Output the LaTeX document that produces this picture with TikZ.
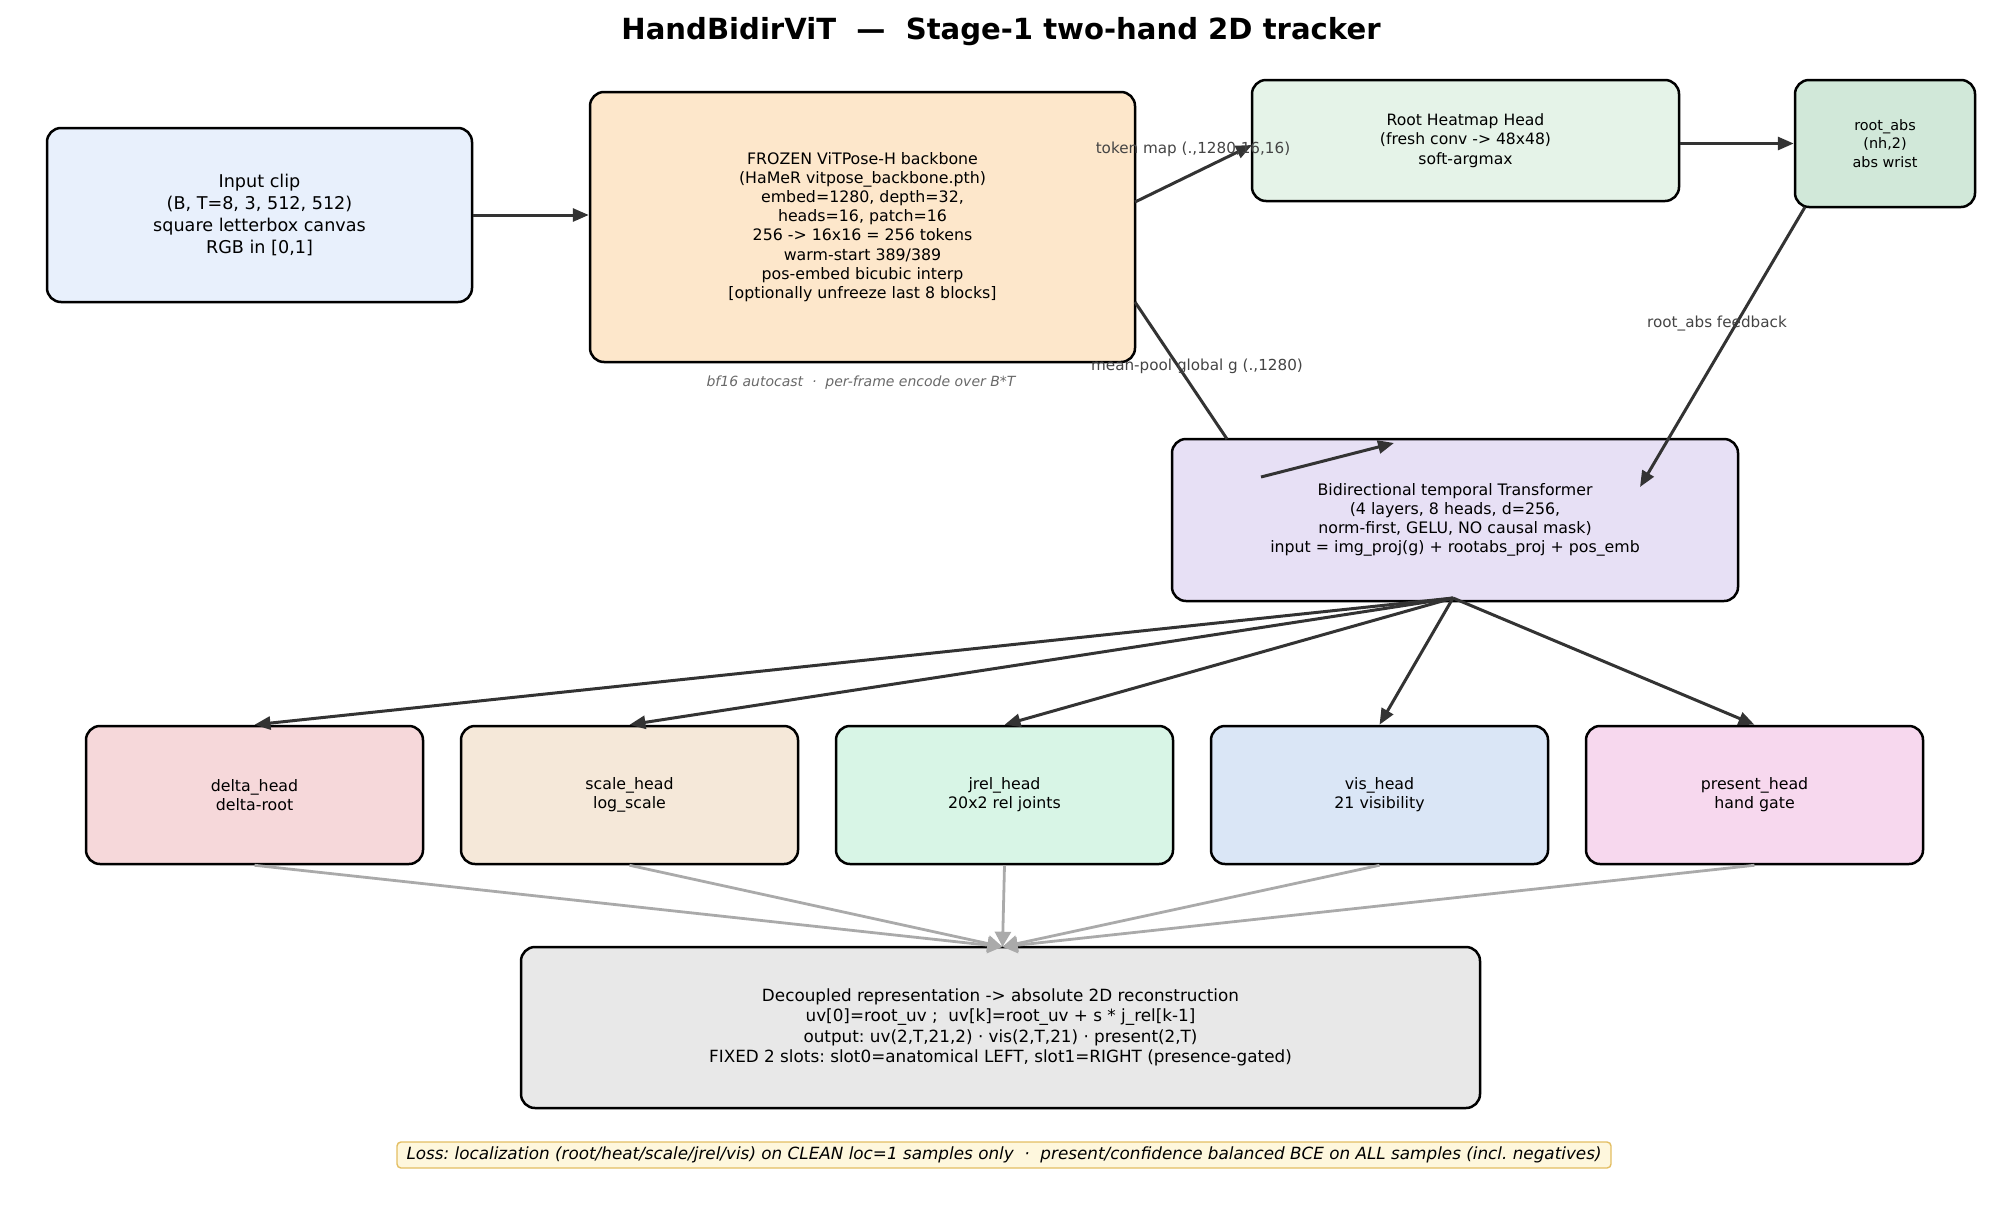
\documentclass[tikz,border=0pt]{standalone}
\usepackage{fontspec}
\setmainfont{DejaVu Sans}
\usetikzlibrary{arrows.meta,calc}
\definecolor{cinput}{HTML}{E8F0FC}
\definecolor{cback}{HTML}{FDE7CB}
\definecolor{cheat}{HTML}{E5F3E8}
\definecolor{croot}{HTML}{D1E8D9}
\definecolor{ctrans}{HTML}{E7E0F5}
\definecolor{cdelta}{HTML}{F6D8DA}
\definecolor{cscale}{HTML}{F5E8D9}
\definecolor{cjrel}{HTML}{D8F5E6}
\definecolor{cvis}{HTML}{DAE6F6}
\definecolor{cpres}{HTML}{F7D8EE}
\definecolor{cbot}{HTML}{E8E8E8}
\definecolor{closs}{HTML}{FEF7DD}
\definecolor{clossb}{HTML}{E3BE62}
\definecolor{darr}{HTML}{333333}
\definecolor{garr}{HTML}{AAAAAA}
\definecolor{lbl}{HTML}{444444}
\tikzset{
  box/.style={draw=black, line width=1.25pt, rounded corners=7pt, inner sep=0pt, align=center},
  arr/.style={draw=darr, line width=1.5pt, -{Triangle[length=8pt,width=6.5pt]}},
  plain/.style={draw=darr, line width=1.5pt},
  garrow/.style={draw=garr, line width=1.4pt, -{Triangle[length=7.5pt,width=8pt]}},
  elabel/.style={text=lbl, font=\fontsize{7.6}{9}\selectfont, inner sep=0pt},
}
\begin{document}
\frenchspacing
\begin{tikzpicture}[x=0.5pt,y=-0.5pt]
\useasboundingbox (0,0) rectangle (2002,1221);
% title
\node[font=\fontsize{14.55}{17}\selectfont\bfseries] (title) at (1001,32) {HandBidirViT \ — \ Stage-1 two-hand 2D tracker};
% top row
\node[box, fill=cinput, minimum width=212.5pt, minimum height=87pt, font=\fontsize{8.8}{10.95}\selectfont] (input) at (259.5,215)
 {Input clip\\(B, T=8, 3, 512, 512)\\square letterbox canvas\\RGB in [0,1]};
\node[box, fill=cback, minimum width=272.5pt, minimum height=135pt, font=\fontsize{7.9}{9.55}\selectfont] (back) at (862.5,227)
 {FROZEN ViTPose-H backbone\\(HaMeR vitpose\_backbone.pth)\\embed=1280, depth=32,\\heads=16, patch=16\\256 -> 16x16 = 256 tokens\\warm-start 389/389\\pos-embed bicubic interp\\{[}optionally unfreeze last 8 blocks{]}};
\node[text=lbl!80, font=\fontsize{7.0}{8}\selectfont\itshape] (cap) at (861,383) {bf16 autocast \ · \ per-frame encode over B*T};
\node[box, fill=cheat, minimum width=213.5pt, minimum height=60.5pt, font=\fontsize{7.8}{9.75}\selectfont] (heat) at (1465.5,140.5)
 {Root Heatmap Head\\(fresh conv -> 48x48)\\soft-argmax};
\node[box, fill=croot, minimum width=90pt, minimum height=63.5pt, font=\fontsize{7.2}{9.15}\selectfont] (rootabs) at (1885,143.5)
 {root\_abs\\(nh,2)\\abs wrist};
% transformer
\node[box, fill=ctrans, minimum width=283pt, minimum height=81pt, font=\fontsize{7.9}{9.5}\selectfont] (trans) at (1455,520)
 {Bidirectional temporal Transformer\\(4 layers, 8 heads, d=256,\\norm-first, GELU, NO causal mask)\\input = img\_proj(g) + rootabs\_proj + pos\_emb};
% heads
\tikzset{head/.style={box, minimum width=168.5pt, minimum height=69pt, font=\fontsize{7.9}{9.5}\selectfont}}
\node[head, fill=cdelta] (delta) at (254.5,795) {delta\_head\\delta-root};
\node[head, fill=cscale] (scale) at (629.5,795) {scale\_head\\log\_scale};
\node[head, fill=cjrel] (jrel) at (1004.5,795) {jrel\_head\\20x2 rel joints};
\node[head, fill=cvis] (vis) at (1379.5,795) {vis\_head\\21 visibility};
\node[head, fill=cpres] (pres) at (1754.5,795) {present\_head\\hand gate};
% bottom
\node[box, fill=cbot, minimum width=479.5pt, minimum height=80.5pt, font=\fontsize{8.4}{10.2}\selectfont] (bot) at (1000.5,1027.5)
 {Decoupled representation -> absolute 2D reconstruction\\uv[0]=root\_uv ; \ uv[k]=root\_uv + s * j\_rel[k-1]\\output: uv(2,T,21,2) · vis(2,T,21) · present(2,T)\\FIXED 2 slots: slot0=anatomical LEFT, slot1=RIGHT (presence-gated)};
% loss note
\node[draw=clossb, fill=closs, line width=0.7pt, rounded corners=2pt, minimum width=607pt, minimum height=13pt, inner sep=0pt, font=\fontsize{8.4}{9}\selectfont\itshape] (loss) at (1004,1155)
 {Loss: localization (root/heat/scale/jrel/vis) on CLEAN loc=1 samples only \ · \ present/confidence balanced BCE on ALL samples (incl. negatives)};
% connectors
\draw[arr] (input.east) -- (input.east -| back.west);
\coordinate (tokS) at (1135,202);
\coordinate (tokE) at (1252,145);
\draw[arr] (tokS) -- (tokE);
\draw[arr] (heat.east |- rootabs.west) -- (rootabs.west);
\coordinate (mpS) at (1135,302);
\coordinate (mpE) at (1227,439);
\draw[plain] (mpS) -- (mpE);
\coordinate (mpA) at (1261,477);
\coordinate (mpB) at (1394,443);
\draw[arr] (mpA) -- (mpB);
\coordinate (fbS) at (1805,207);
\coordinate (fbE) at (1640,487);
\draw[arr] (fbS) -- (fbE);
\coordinate (tb) at (1453,598);
\foreach \n in {delta,scale,jrel,vis,pres} {\draw[arr] (tb) -- (\n.north);}
\foreach \n in {delta,scale,jrel,vis,pres} {\draw[garrow] (\n.south) -- ($(bot.north)+(2,1)$);}
% edge labels
\node[elabel] (ltok) at (1193,149) {token map (.,1280,16,16)};
\node[elabel] (lmp) at (1197,366) {mean-pool global g (.,1280)};
\node[elabel] (lfb) at (1717,324) {root\_abs feedback};
\end{tikzpicture}
\end{document}
